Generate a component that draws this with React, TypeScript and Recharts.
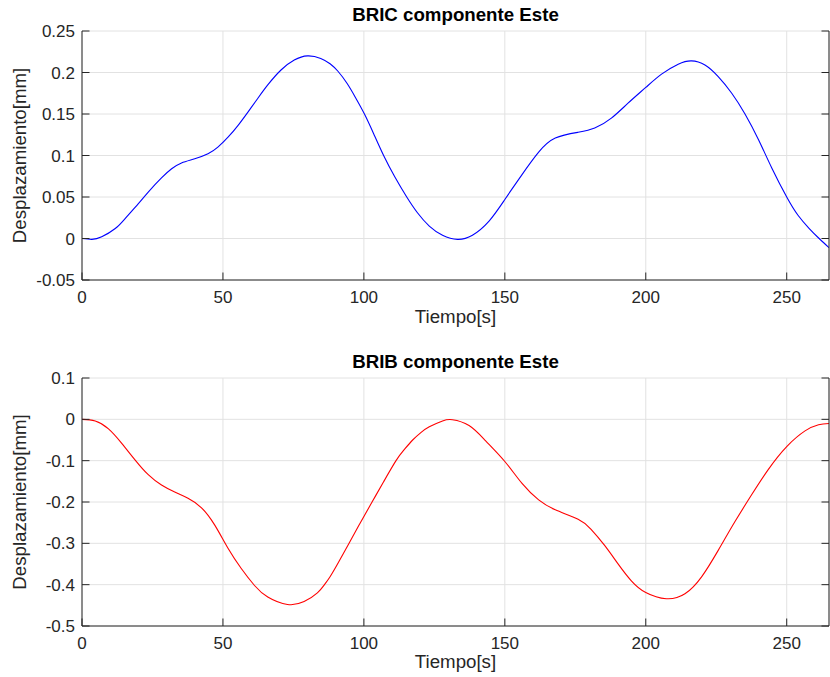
import React from 'react';
import { LineChart, Line, XAxis, YAxis, CartesianGrid } from 'recharts';

// ---------- data ----------
const bricTime = [0, 3.5, 7, 11.8, 15.3, 20, 23.5, 28.2, 31.8, 35.3, 40, 44.7, 48.2, 51.8, 55.3, 58.8, 62.4, 65.9, 70.6, 75.3, 80, 84.7, 88, 90.8, 94, 97, 100.2, 103.5, 107, 111, 115.2, 119, 123.2, 127.9, 133.2, 138.5, 144.4, 150, 156.1, 162, 167.9, 176, 181.9, 187.8, 193.7, 200, 205.6, 211.5, 216.2, 221, 225.7, 230.5, 235.2, 240, 244.7, 250, 254, 258, 261.5, 265];
const bricValues = [0, -0.001, 0.002, 0.012, 0.024, 0.042, 0.056, 0.073, 0.084, 0.091, 0.096, 0.102, 0.11, 0.122, 0.136, 0.152, 0.169, 0.185, 0.203, 0.215, 0.22, 0.217, 0.2105, 0.2015, 0.187, 0.17, 0.15, 0.126, 0.1, 0.074, 0.05, 0.031, 0.015, 0.004, -0.001, 0.004, 0.021, 0.047, 0.077, 0.104, 0.121, 0.128, 0.133, 0.145, 0.163, 0.182, 0.198, 0.21, 0.214, 0.209, 0.195, 0.175, 0.15, 0.119, 0.085, 0.05, 0.028, 0.012, 0, -0.011];

const bribTime = [0, 4.7, 9.4, 14.1, 18.8, 23.5, 28.2, 32.9, 37.6, 42.4, 47.1, 51.8, 56.5, 61.2, 65.9, 72.9, 78.8, 83.5, 85.9, 88, 91, 94.4, 98.6, 102.9, 107, 111.4, 114.3, 117.3, 120.2, 123.2, 127.9, 131.4, 137.3, 143.2, 150, 156.1, 162, 167.9, 176, 180.6, 185.4, 190.1, 194.8, 200, 207.3, 213.9, 219.8, 225.7, 231.6, 237.6, 243.5, 250, 256.5, 261.3, 265];
const bribValues = [0, -0.004, -0.023, -0.058, -0.098, -0.134, -0.159, -0.176, -0.191, -0.214, -0.256, -0.312, -0.361, -0.402, -0.43, -0.448, -0.441, -0.42, -0.401, -0.381, -0.346, -0.304, -0.252, -0.2, -0.151, -0.1, -0.0735, -0.05, -0.032, -0.018, -0.004, -0.001, -0.015, -0.052, -0.102, -0.155, -0.195, -0.219, -0.242, -0.266, -0.305, -0.349, -0.39, -0.419, -0.434, -0.422, -0.381, -0.317, -0.248, -0.182, -0.121, -0.066, -0.028, -0.013, -0.01];

const xTicks = [0, 50, 100, 150, 200, 250];
const xTickLabels = ['0', '50', '100', '150', '200', '250'];
const xDomain = [0, 265];

const bricYTicks = [-0.05, 0, 0.05, 0.1, 0.15, 0.2, 0.25];
const bricYLabels = ['-0.05', '0', '0.05', '0.1', '0.15', '0.2', '0.25'];
const bribYTicks = [-0.5, -0.4, -0.3, -0.2, -0.1, 0, 0.1];
const bribYLabels = ['-0.5', '-0.4', '-0.3', '-0.2', '-0.1', '0', '0.1'];

const titles = ['BRIC componente Este', 'BRIB componente Este'];
const xLabel = 'Tiempo[s]';
const yLabel = 'Desplazamiento[mm]';

// ---------- style ----------
const FONT = '"Liberation Sans", Arial, Helvetica, sans-serif';
const AX = '#262626';
const GRID = '#e2e2e2';
const TICK_FS = 17;
const LABEL_FS = 18.7;
const TL = 7.5; // tick length (inward)
const X_MARGIN = 10;
const Y_MARGIN = 7;

const labelFor = (ticks: number[], labels: string[], v: number) => {
  let best = 0;
  for (let i = 0; i < ticks.length; i++) {
    if (Math.abs(ticks[i] - v) < Math.abs(ticks[best] - v)) best = i;
  }
  return labels[best];
};

const BottomTick = (props: any) => {
  const { x, y, payload } = props;
  const ay = y - X_MARGIN;
  return (
    <g>
      <line x1={x} x2={x} y1={ay} y2={ay - TL} stroke={AX} strokeWidth={1} />
      <text x={x} y={y} dy="0.75em" textAnchor="middle" fontSize={TICK_FS} fontFamily={FONT} fill={AX}>
        {labelFor(xTicks, xTickLabels, payload.value)}
      </text>
    </g>
  );
};

const TopTick = (props: any) => {
  const { x, y } = props;
  return <line x1={x} x2={x} y1={y} y2={y + TL} stroke={AX} strokeWidth={1} />;
};

const makeLeftTick = (ticks: number[], labels: string[]) => (props: any) => {
  const { x, y, payload } = props;
  const ax = x + Y_MARGIN;
  return (
    <g>
      <line x1={ax} x2={ax + TL} y1={y} y2={y} stroke={AX} strokeWidth={1} />
      <text x={x} y={y} dy="0.36em" textAnchor="end" fontSize={TICK_FS} fontFamily={FONT} fill={AX}>
        {labelFor(ticks, labels, payload.value)}
      </text>
    </g>
  );
};

const RightTick = (props: any) => {
  const { x, y } = props;
  return <line x1={x} x2={x - TL} y1={y} y2={y} stroke={AX} strokeWidth={1} />;
};

const BricLeftTick = makeLeftTick(bricYTicks, bricYLabels);
const BribLeftTick = makeLeftTick(bribYTicks, bribYLabels);

type PanelProps = {
  data: { t: number; v: number }[];
  color: string;
  yDomain: number[];
  yTicks: number[];
  LeftTick: any;
  height: number;
  top: number;
  xAxisHeight: number;
};

const Panel = ({ data, color, yDomain, yTicks, LeftTick, height, top, xAxisHeight }: PanelProps) => (
  <LineChart width={830} height={height} data={data} margin={{ top, right: 0, bottom: 0, left: 0 }}>
    <CartesianGrid stroke={GRID} strokeWidth={1} horizontal vertical />
    <XAxis
      dataKey="t"
      type="number"
      domain={xDomain}
      ticks={xTicks}
      allowDataOverflow
      height={xAxisHeight}
      tickSize={0}
      tickMargin={X_MARGIN}
      tick={<BottomTick />}
      axisLine={{ stroke: AX, strokeWidth: 1 }}
      interval={0}
    />
    <XAxis
      xAxisId="top"
      orientation="top"
      dataKey="t"
      type="number"
      domain={xDomain}
      ticks={xTicks}
      allowDataOverflow
      height={0}
      tickSize={0}
      tickMargin={0}
      tick={<TopTick />}
      axisLine={{ stroke: AX, strokeWidth: 1 }}
      interval={0}
    />
    <YAxis
      type="number"
      domain={yDomain}
      ticks={yTicks}
      allowDataOverflow
      width={82}
      tickSize={0}
      tickMargin={Y_MARGIN}
      tick={<LeftTick />}
      axisLine={{ stroke: AX, strokeWidth: 1 }}
      interval={0}
    />
    <YAxis
      yAxisId="right"
      orientation="right"
      type="number"
      domain={yDomain}
      ticks={yTicks}
      allowDataOverflow
      width={1}
      tickSize={0}
      tickMargin={0}
      tick={<RightTick />}
      axisLine={{ stroke: AX, strokeWidth: 1 }}
      interval={0}
    />
    <Line
      dataKey="v"
      type="natural"
      stroke={color}
      strokeWidth={1.1}
      dot={false}
      activeDot={false}
      isAnimationActive={false}
    />
  </LineChart>
);

const bricData = bricTime.map((t, i) => ({ t, v: bricValues[i] }));
const bribData = bribTime.map((t, i) => ({ t, v: bribValues[i] }));

export default function App() {
  const cx = 455.5;
  return (
    <div style={{ position: 'absolute', left: 0, top: 0, width: 830, height: 677, background: '#fff', overflow: 'hidden' }}>
      <div style={{ position: 'absolute', left: 0, top: 0 }}>
        <Panel data={bricData} color="#0000ff" yDomain={[-0.05, 0.25]} yTicks={bricYTicks} LeftTick={BricLeftTick} height={340} top={31} xAxisHeight={60} />
      </div>
      <div style={{ position: 'absolute', left: 0, top: 340 }}>
        <Panel data={bribData} color="#ff0000" yDomain={[-0.5, 0.1]} yTicks={bribYTicks} LeftTick={BribLeftTick} height={337} top={38} xAxisHeight={51} />
      </div>
      <svg width={830} height={677} style={{ position: 'absolute', left: 0, top: 0, pointerEvents: 'none' }}>
        <text x={cx} y={21} textAnchor="middle" fontSize={LABEL_FS} fontWeight="bold" fontFamily={FONT} fill="#000">{titles[0]}</text>
        <text x={cx} y={368} textAnchor="middle" fontSize={LABEL_FS} fontWeight="bold" fontFamily={FONT} fill="#000">{titles[1]}</text>
        <text x={cx} y={323} textAnchor="middle" fontSize={LABEL_FS} fontFamily={FONT} fill={AX}>{xLabel}</text>
        <text x={cx} y={668} textAnchor="middle" fontSize={LABEL_FS} fontFamily={FONT} fill={AX}>{xLabel}</text>
        <text transform="translate(26,155.5) rotate(-90)" textAnchor="middle" fontSize={LABEL_FS} fontFamily={FONT} fill={AX}>{yLabel}</text>
        <text transform="translate(26,502) rotate(-90)" textAnchor="middle" fontSize={LABEL_FS} fontFamily={FONT} fill={AX}>{yLabel}</text>
      </svg>
    </div>
  );
}
